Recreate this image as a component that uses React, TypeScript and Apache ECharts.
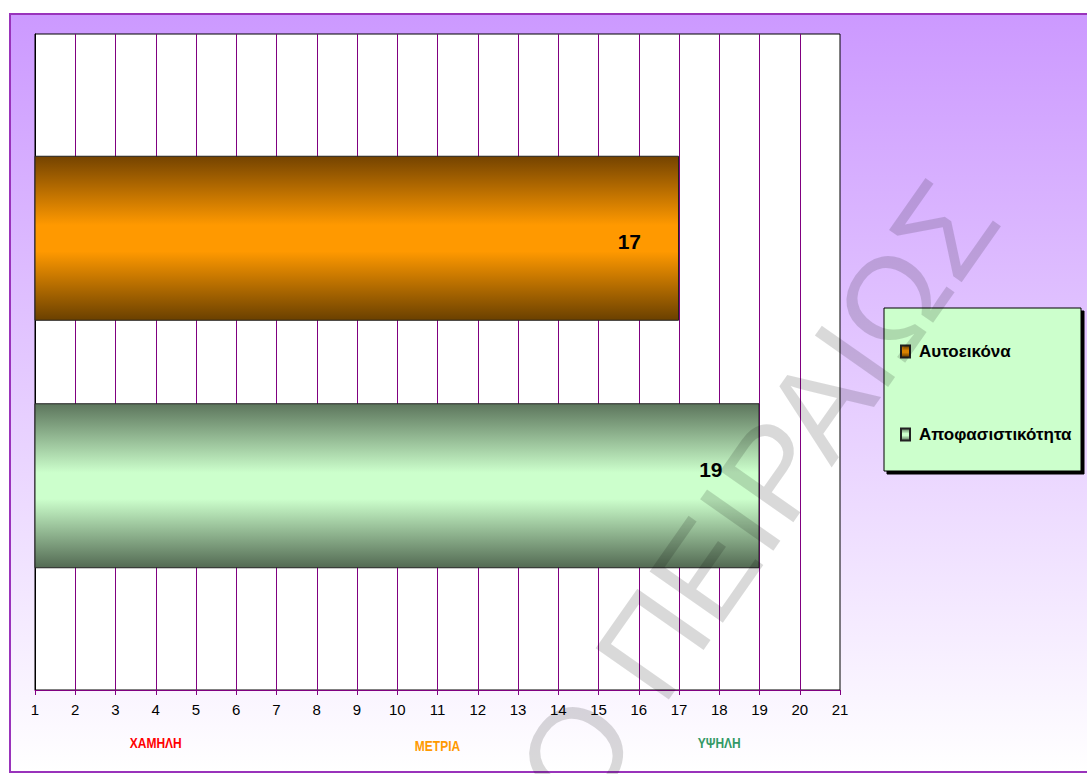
import React, { useEffect, useRef } from 'react';
import * as echarts from 'echarts';

const categories = [''];
const seriesNames = ['Αυτοεικόνα', 'Αποφασιστικότητα'];
const autoeikonaValues = [17];
const apofasistikotitaValues = [19];
const axisMin = 1;
const axisMax = 21;
const axisInterval = 1;
const levelLabels = ['ΧΑΜΗΛΗ', 'ΜΕΤΡΙΑ', 'ΥΨΗΛΗ'];
const levelAt = [4, 11, 18];
const levelColors = ['#ff0000', '#ff9900', '#339966'];
const watermarkText = 'ΠΑΝΕΠΙΣΤΗΜΙΟ ΠΕΙΡΑΙΩΣ';

const FONT = '"Liberation Sans", Arial, sans-serif';

const vGrad = (stops: [number, string][]) =>
  new echarts.graphic.LinearGradient(0, 0, 0, 1, stops.map(([offset, color]) => ({ offset, color })));

export default function App() {
  const ref = useRef<HTMLDivElement>(null);
  useEffect(() => {
    if (!ref.current) return;
    const chart = echarts.init(ref.current, undefined, { renderer: 'svg' });
    const orange = vGrad([
      [0, '#744300'],
      [0.42, '#ff9900'],
      [0.58, '#ff9900'],
      [1, '#6a4000'],
    ]);
    const green = vGrad([
      [0, '#5c755c'],
      [0.42, '#ccffcc'],
      [0.58, '#ccffcc'],
      [1, '#536a53'],
    ]);
    const baseGraphic: any[] = [
      {
        type: 'rect',
        z: -100,
        silent: true,
        shape: { x: 10, y: 14, width: 1090, height: 758 },
        style: {
          fill: new echarts.graphic.LinearGradient(0, 0, 0, 1, [
            { offset: 0, color: '#cc99ff' },
            { offset: 1, color: '#ffffff' },
          ]),
          stroke: '#9933bb',
          lineWidth: 2,
        },
      },
      {
        type: 'rect',
        z: 1,
        shape: { x: 884, y: 308, width: 197, height: 163 },
        style: {
          fill: '#ccffcc',
          stroke: '#000',
          lineWidth: 1,
          shadowColor: '#000',
          shadowOffsetX: 3,
          shadowOffsetY: 3,
          shadowBlur: 0,
        },
      },
      {
        type: 'text',
        z: 100,
        silent: true,
        x: 967,
        y: 196,
        rotation: (55 * Math.PI) / 180,
        style: {
          text: watermarkText,
          font: `130px ${FONT}`,
          fill: 'rgba(0,0,0,0.15)',
          align: 'right',
          verticalAlign: 'middle',
        },
      },
    ];
    const labelStyle = {
      show: true,
      position: 'insideRight',
      fontFamily: FONT,
      fontWeight: 'bold',
      fontSize: 21,
      color: '#000',
    };
    const option: any = {
      animation: false,
      grid: {
        left: 35,
        right: 247,
        top: 34,
        bottom: 84,
        show: true,
        backgroundColor: '#ffffff',
        borderColor: '#000000',
        borderWidth: 1,
      },
      legend: {
        data: seriesNames,
        orient: 'vertical',
        left: 900,
        top: 343,
        padding: 0,
        itemGap: 66,
        itemWidth: 9,
        itemHeight: 12,
        icon: 'rect',
        z: 5,
        textStyle: {
          fontFamily: FONT,
          fontWeight: 'bold',
          fontSize: 17,
          color: '#000',
          padding: [0, 0, 0, 4],
        },
      },
      xAxis: {
        type: 'value',
        min: axisMin,
        max: axisMax,
        interval: axisInterval,
        axisLine: { show: true, lineStyle: { color: '#800080', width: 1 } },
        axisTick: { show: true, length: 5, lineStyle: { color: '#800080' } },
        axisLabel: { color: '#000', fontFamily: FONT, fontSize: 15, margin: 12 },
        splitLine: { show: true, showMinLine: false, showMaxLine: false, lineStyle: { color: '#800080', width: 1 } },
      },
      yAxis: {
        type: 'category',
        data: categories,
        axisLine: { show: true, lineStyle: { color: '#000' } },
        axisTick: { show: false },
        axisLabel: { show: false },
        splitLine: { show: false },
      },
      series: [
        {
          name: seriesNames[0],
          type: 'bar',
          data: autoeikonaValues,
          barWidth: 165,
          barGap: '50%',
          itemStyle: { color: orange, borderColor: '#222', borderWidth: 1 },
          label: { ...labelStyle, distance: 38, offset: [0, 3] },
        },
        {
          name: seriesNames[1],
          type: 'bar',
          data: apofasistikotitaValues,
          barWidth: 165,
          barGap: '50%',
          itemStyle: { color: green, borderColor: '#222', borderWidth: 1 },
          label: { ...labelStyle, distance: 37, offset: [0, -16] },
        },
      ],
      graphic: baseGraphic,
    };
    chart.setOption(option);
    const levelGraphic = levelLabels.map((t, i) => ({
      type: 'text',
      z: 10,
      x: chart.convertToPixel({ xAxisIndex: 0 }, levelAt[i]) as number,
      y: 743 + (i === 1 ? 3 : 0),
      scaleX: 0.8,
      style: {
        text: t,
        font: `bold 15px ${FONT}`,
        fill: levelColors[i],
        align: 'center',
        verticalAlign: 'middle',
      },
    }));
    chart.setOption({ graphic: [...baseGraphic, ...levelGraphic] }, { replaceMerge: ['graphic'] });
    return () => chart.dispose();
  }, []);
  return <div ref={ref} style={{ position: 'absolute', left: 0, top: 0, width: 1087, height: 774 }} />;
}
